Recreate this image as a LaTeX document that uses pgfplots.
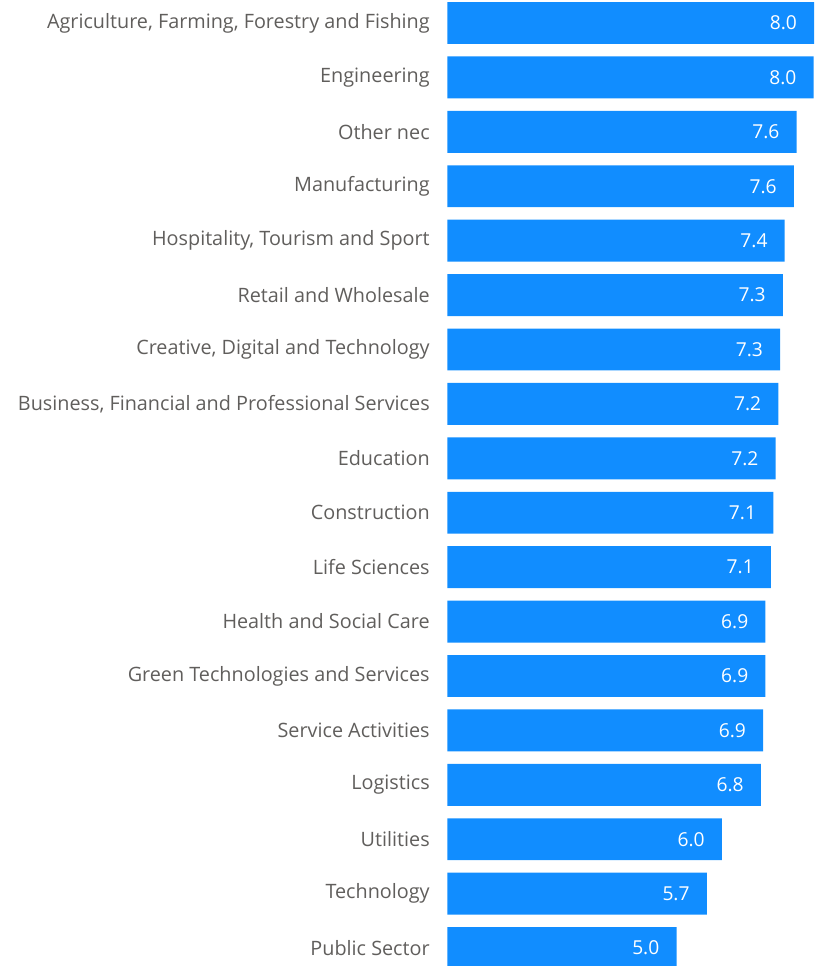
\documentclass[border=0pt]{standalone}
\usepackage{pgfplots}
\pgfplotsset{compat=1.18}
\usepackage{fontspec}
\setmainfont{Open Sans}
\definecolor{barblue}{HTML}{118DFF}
\definecolor{labelgray}{HTML}{605E5C}

% average score by sector (index 0 = top row)
\pgfplotstableread{
i v
0 8.00
1 7.99
2 7.62
3 7.56
4 7.36
5 7.32
6 7.26
7 7.22
8 7.16
9 7.11
10 7.06
11 6.94
12 6.94
13 6.89
14 6.84
15 5.99
16 5.66
17 5.00
}\sectordata

\begin{document}
\begin{tikzpicture}
\begin{axis}[
  xbar,
  scale only axis,
  width=186.35pt, height=483pt,
  xmin=0, xmax=8.13,
  ymin=-0.423, ymax=17.33,
  y dir=reverse,
  bar width=0.77,
  axis line style={draw=none},
  xtick=\empty,
  ytick={0,...,17},
  yticklabels={
    {Agriculture, Farming, Forestry and Fishing},
    Engineering,
    Other nec,
    Manufacturing,
    {Hospitality, Tourism and Sport},
    Retail and Wholesale,
    {Creative, Digital and Technology},
    {Business, Financial and Professional Services},
    Education,
    Construction,
    Life Sciences,
    Health and Social Care,
    Green Technologies and Services,
    Service Activities,
    Logistics,
    Utilities,
    Technology,
    Public Sector},
  major tick length=0pt,
  y tick label style={anchor=east, inner sep=0pt, xshift=-8.6pt,
    font=\fontsize{9.9}{11}\selectfont, text=labelgray},
  point meta=x,
  nodes near coords={\pgfmathprintnumber[fixed,fixed zerofill,precision=1,assume math mode=true]{\pgfplotspointmeta}},
  nodes near coords style={anchor=east, inner sep=0pt, xshift=-8.4pt,
    font=\fontsize{9.6}{11}\selectfont, text=white},
]
\addplot[fill=barblue, draw=none] table[x=v, y=i] {\sectordata};
\end{axis}
\pgfresetboundingbox
\path (current axis.south west) ++(-223.65pt,0) rectangle (current axis.north east);
\end{tikzpicture}
\end{document}
